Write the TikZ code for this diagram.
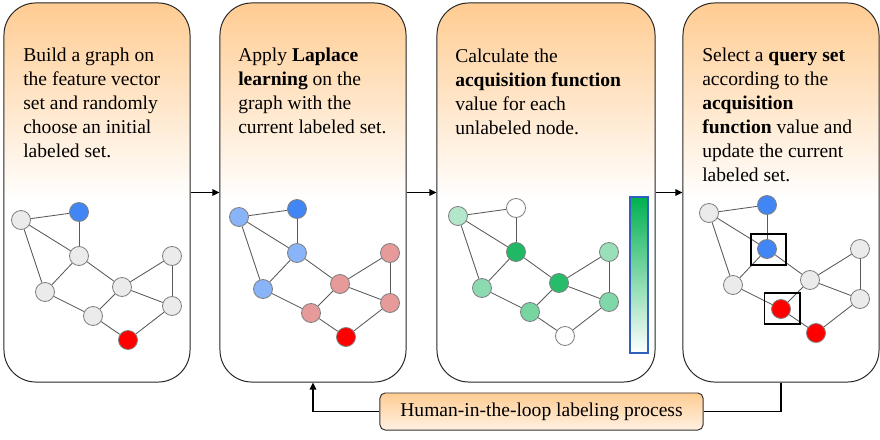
\documentclass[tikz,border=0pt]{standalone}
\usepackage{fontspec}
\setmainfont{Liberation Serif}
\usepackage{xcolor}
\usepackage{tikz}
\usetikzlibrary{arrows.meta}

\definecolor{boxor}{RGB}{255,204,146}
\definecolor{hitlbot}{RGB}{255,241,226}
\definecolor{ugray}{HTML}{EBEBEB}
\definecolor{dblue}{HTML}{4285F4}
\definecolor{lblue}{HTML}{8AB4F8}
\definecolor{lpink}{HTML}{E69A9A}
\definecolor{dred}{HTML}{FF0000}
\definecolor{acq}{HTML}{00B050}
\definecolor{barblue}{HTML}{2F5FBF}
\pgfdeclareverticalshading{boxshade}{100bp}{color(0bp)=(white); color(49bp)=(white); color(75bp)=(boxor); color(100bp)=(boxor)}

\begin{document}
\begin{tikzpicture}[x=0.025cm,y=-0.025cm,
  stepbox/.style={draw=black!85,line width=.7pt,rounded corners=.8cm,minimum height=9.475cm,shading=boxshade,shade},
  steptext/.style={anchor=north west,inner sep=0,align=left,font=\fontsize{13.9}{17}\selectfont},
  vtx/.style={circle,draw=black!50,line width=.6pt,minimum size=.475cm,inner sep=0},
  edge/.style={draw=black!65,line width=.6pt},
  flow/.style={line width=1.3pt,-{Triangle[length=5pt,width=4.5pt]}},
  qbox/.style={draw,line width=1.4pt,minimum width=.875cm,minimum height=.775cm}]
\useasboundingbox (0,0) rectangle (880,440);
\node[stepbox,minimum width=4.65cm] (box1) at (97,192.5) {};
\node[stepbox,minimum width=4.65cm] (box2) at (313,192.5) {};
\node[stepbox,minimum width=5.45cm] (box3) at (546,192.5) {};
\node[stepbox,minimum width=4.9cm] (box4) at (781,192.5) {};
\node[steptext] (txt1) at (23,48) {Build a graph on\\the feature vector\\set and randomly\\choose an initial\\labeled set.};
\node[steptext] (txt2) at (238,48) {Apply \textbf{Laplace}\\\textbf{learning} on the\\graph with the\\current labeled set.};
\node[steptext] (txt3) at (455,49) {Calculate the\\\textbf{acquisition function}\\value for each\\unlabeled node.};
\node[steptext] (txt4) at (702,48) {Select a \textbf{query set}\\according to the\\\textbf{acquisition}\\\textbf{function} value and\\update the current\\labeled set.};
\draw[flow] (box1) -- (box2);
\draw[flow] (box2) -- (box3);
\draw[flow] (box3) -- (box4);
\foreach \g/\sx/\sy/\ca/\cb/\cc/\cd/\ce/\cf/\cg/\ch/\ci in {
  1/0/0/ugray/dblue/ugray/ugray/ugray/ugray/ugray/ugray/dred,
  2/218/-3/lblue/dblue/lblue/lblue/lpink/lpink/lpink/lpink/dred,
  3/437/-4/acq!30!white/white/acq!88!white/acq!45!white/acq!85!white/acq!40!white/acq!50!white/acq!53!white/white,
  4/688/-7/ugray/dblue/dblue/ugray/ugray/ugray/ugray/dred/dred}{
  \begin{scope}[shift={(\sx,\sy)}]
    \node[vtx,fill=\ca] (a\g) at (21,220) {};
    \node[vtx,fill=\cb] (b\g) at (79,212) {};
    \node[vtx,fill=\cc] (c\g) at (79,256) {};
    \node[vtx,fill=\cd] (d\g) at (45,292) {};
    \node[vtx,fill=\ce] (e\g) at (122,287) {};
    \node[vtx,fill=\cf] (f\g) at (172,256) {};
    \node[vtx,fill=\cg] (g\g) at (172,306) {};
    \node[vtx,fill=\ch] (h\g) at (93,316) {};
    \node[vtx,fill=\ci] (i\g) at (128,340) {};
  \end{scope}
  \foreach \u/\v in {a/b,a/c,a/d,b/c,c/d,c/e,d/h,e/f,e/g,e/h,f/g,h/i,g/i}
    \draw[edge] (\u\g) -- (\v\g);
}
\node[draw=barblue,line width=1.5pt,top color=acq,bottom color=white,minimum width=.45cm,minimum height=3.9cm,inner sep=0] (cbar) at (639,275) {};
\node[qbox] (q1) at (768.5,249.5) {};
\node[qbox] (q2) at (782,308.5) {};
\node[draw=black!80,line width=.7pt,rounded corners=.13cm,top color=boxor,bottom color=hitlbot,minimum width=8.075cm,minimum height=.925cm,font=\fontsize{13.9}{17}\selectfont] (hitl) at (541.5,411.5) {Human-in-the-loop labeling process};
\draw[line width=1.3pt] (box4.south) |- (hitl.east);
\draw[flow] (hitl.west) -| (box2.south);
\end{tikzpicture}
\end{document}
